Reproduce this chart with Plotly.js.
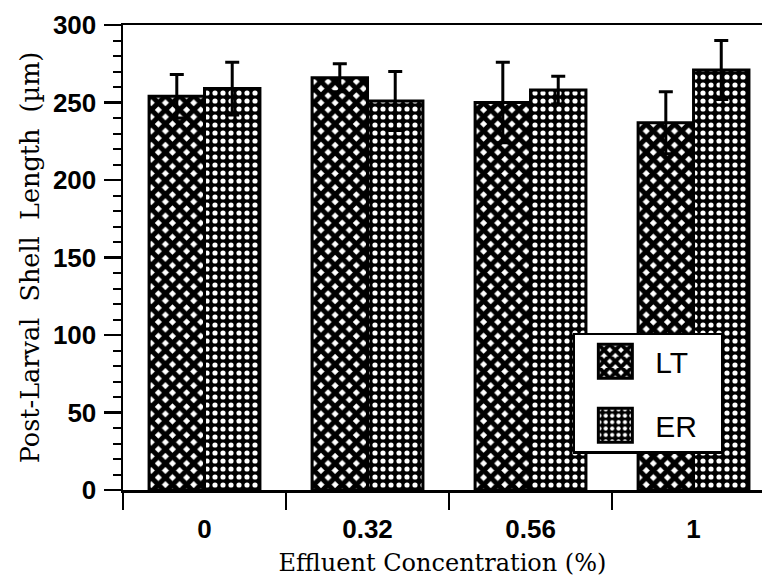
<!DOCTYPE html>
<html>
<head>
<meta charset="utf-8">
<script src="https://cdn.plot.ly/plotly-3.0.1.min.js"></script>
<style>html,body{margin:0;padding:0;background:#fff;}#chart{width:767px;height:587px;}</style>
</head>
<body>
<div id="chart"></div>
<script>
// Data
const categories = ['0', '0.32', '0.56', '1'];
const ltMean = [254, 266, 250, 237];
const ltErr  = [14, 9, 26, 20];
const erMean = [259, 251, 258, 271];
const erErr  = [17, 19, 9, 19];
const seriesNames = ['LT', 'ER'];

const tickFont = {family: 'Liberation Sans, Arial, sans-serif', size: 26, color: '#000', weight: 'bold'};
const serif = 'DejaVu Serif, serif';

const errStyle = (arr) => ({type: 'data', array: arr, symmetric: true, visible: true,
  color: '#000', thickness: 3, width: 7});

const traces = [
  {
    type: 'bar', name: seriesNames[0], x: categories, y: ltMean,
    error_y: errStyle(ltErr), legendgroup: 'a',
    marker: {color: '#000', line: {color: '#000', width: 3},
      pattern: {shape: 'x', fgcolor: '#000', bgcolor: '#fff', size: 10, solidity: 0.75, fillmode: 'replace'}}
  },
  {
    type: 'bar', name: seriesNames[1], x: categories, y: erMean,
    error_y: errStyle(erErr), legendgroup: 'b',
    marker: {color: '#000', line: {color: '#000', width: 3},
      pattern: {shape: '.', fgcolor: '#fff', bgcolor: '#000', size: 8, solidity: 0.33, fillmode: 'replace'}}
  }
];

const layout = {
  width: 767, height: 587,
  margin: {l: 123, r: 5, t: 25, b: 97},
  paper_bgcolor: '#fff', plot_bgcolor: '#fff',
  barmode: 'group', bargap: 0.32, bargroupgap: 0,
  showlegend: true,
  legend: {
    x: 0.704, y: 0.338, xanchor: 'left', yanchor: 'top',
    bgcolor: '#fff', bordercolor: '#000', borderwidth: 2.5,
    font: {family: 'Liberation Sans, Arial, sans-serif', size: 30, color: '#000'},
    itemwidth: 70, traceorder: 'grouped', tracegroupgap: 22
  },
  xaxis: {
    type: 'category', range: [-0.5, 3.42],
    tickson: 'boundaries', ticks: 'outside', ticklen: 17, tickwidth: 2.5, tickcolor: '#000',
    showline: true, linewidth: 2.5, linecolor: '#000', mirror: true,
    showgrid: false, zeroline: false, tickfont: tickFont, ticklabelstandoff: 14,
    title: {text: 'Effluent Concentration (%)', font: {family: serif, size: 24, color: '#000'}, standoff: 12}
  },
  yaxis: {
    range: [0, 300], dtick: 50, tick0: 0,
    ticks: 'outside', ticklen: 17, tickwidth: 2.5, tickcolor: '#000',
    minor: {dtick: 10, ticks: 'outside', ticklen: 8, tickwidth: 2, tickcolor: '#000'},
    showline: true, linewidth: 2.5, linecolor: '#000',
    showgrid: false, zeroline: false, tickfont: tickFont, ticklabelstandoff: 2,
    title: {text: 'Post-Larval\u00a0 Shell\u00a0 Length\u00a0 (\u00b5m)', font: {family: serif, size: 25.5, color: '#000'}, standoff: 6}
  }
};

Plotly.newPlot('chart', traces, layout, {displayModeBar: false, staticPlot: true}).then(function () {
  document.querySelectorAll('#chart .legendpoints path').forEach(function (p) {
    p.setAttribute('d', 'M17,17H-17V-17H17Z');
  });
  var bg = document.querySelector('#chart .legend rect.bg');
  if (bg) { bg.setAttribute('width', 148); }
});
</script>
</body>
</html>
